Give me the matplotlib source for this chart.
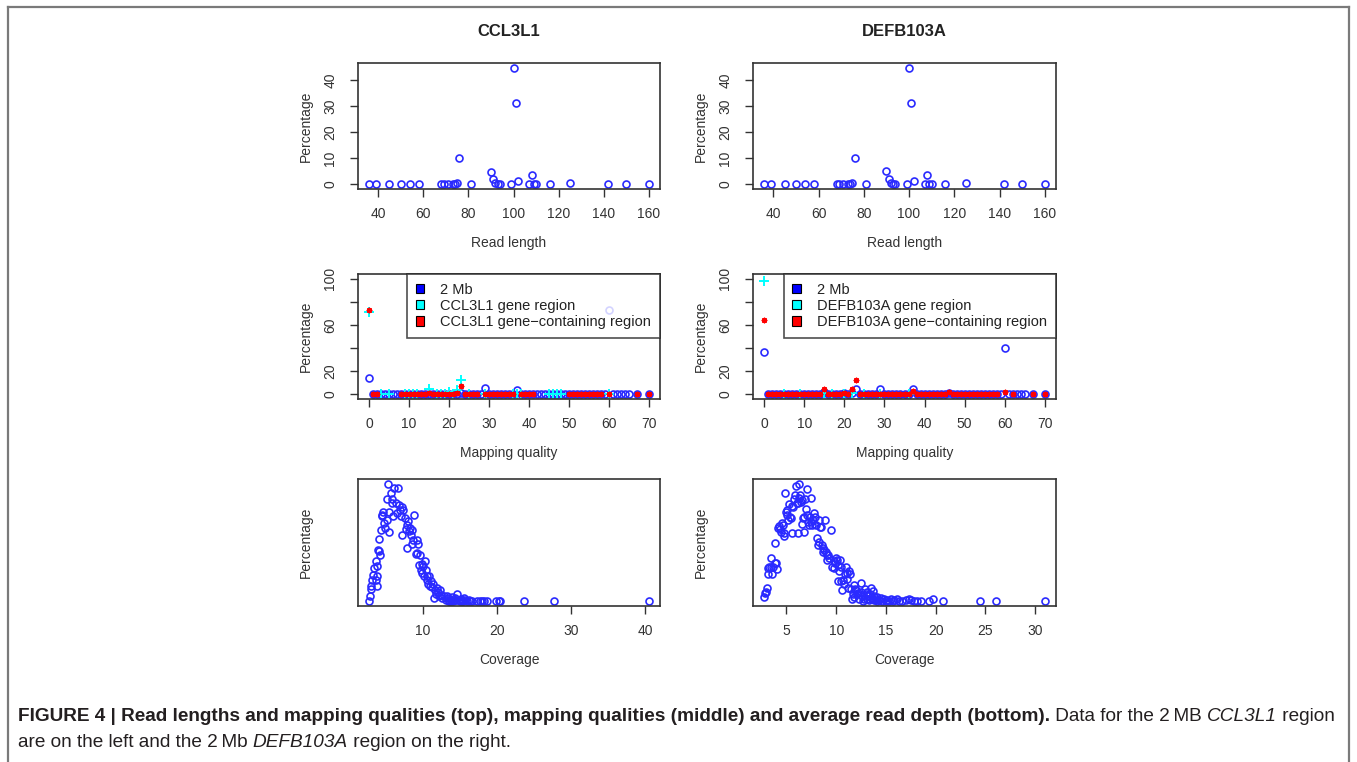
import matplotlib
matplotlib.use("Agg")
import matplotlib.pyplot as plt
from matplotlib import font_manager
from matplotlib.font_manager import FontProperties
from matplotlib.lines import Line2D
from matplotlib.patches import Patch

plt.rcParams["font.family"] = ["Liberation Sans", "DejaVu Sans"]

# ---- data: read length (top row) ----
rl_x = [36, 39, 45, 50, 54, 58, 68, 69, 71, 73, 74, 75, 76, 81, 90, 91, 92, 93,
        94, 99, 100, 101, 102, 107, 108, 109, 110, 116, 125, 142, 150, 160]
rl_ccl_y = [0, 0, 0, 0, 0, 0.2, 0, 0, 0, 0.2, 0.2, 0.4, 10.2, 0.2, 4.9, 2.0, 0.4, 0,
            0, 0, 44.8, 31.3, 1.1, 0, 3.4, 0, 0, 0, 0.4, 0, 0, 0]
rl_defb_y = [0, 0, 0, 0, 0, 0.2, 0, 0, 0, 0.2, 0.2, 0.4, 10.1, 0.2, 5.0, 2.0, 0.4, 0,
             0, 0, 44.9, 31.3, 1.1, 0, 3.4, 0, 0, 0, 0.4, 0, 0, 0]

# ---- data: mapping quality (middle row) ----
mq_blue_x = list(range(66)) + [67, 70]
mq_ccl_blue_y = [14.5, 0.3, 0.2, 0.2, 0.2, 0.2, 0.2, 0.2, 0.2, 0.2,
                 0.3, 0.3, 0.3, 0.3, 0.3, 0.4, 0.3, 0.3, 0.3, 0.3,
                 0.5, 0.4, 0.6, 0.8, 0.4, 0.4, 0.4, 0.5, 0.6, 5.2,
                 0.6, 0.4, 0.4, 0.4, 0.4, 0.5, 0.7, 3.6, 0.6, 0.4,
                 0.4, 0.4, 0.4, 0.3, 0.3, 0.3, 0.4, 0.3, 0.3, 0.3,
                 0.3, 0.3, 0.3, 0.3, 0.3, 0.3, 0.3, 0.3, 0.3, 0.4,
                 73.0, 0.3, 0.2, 0.2, 0.2, 0.2,
                 0.2, 0.3]
mq_ccl_cyan_x = [0, 3, 5, 9, 10, 11, 12, 15, 17, 18, 19, 20, 21, 22, 23, 25, 29,
                 36, 37, 38, 45, 46, 47, 48, 60]
mq_ccl_cyan_y = [71.0, 0, 0, 0, 0, 0, 0, 5.0, 0, 0, 0, 2.0, 0.5, 4.0, 12.0, 0, 0,
                 0, 0, 0, 0, 0.5, 0, 0, 0.3]
mq_ccl_red_x = [0, 1, 2, 8, 9, 10, 11, 12, 13, 14, 15, 16, 17, 18, 19, 20, 21, 22,
                23, 24, 25, 26, 27, 29, 30, 31, 32, 33, 34, 35, 36, 38, 39, 40, 41,
                50, 51, 52, 53, 54, 55, 56, 57, 58, 60, 67, 70]
mq_ccl_red_y = [73.0, 0, 0, 0, 0, 0, 0, 0, 0, 0, 1.5, 0, 0, 0, 0, 0.5, 0, 1.0,
                7.0, 0, 0, 0, 0, 0.5, 0, 0, 0, 0, 0, 0, 0, 0, 0, 0, 0,
                0, 0, 0, 0, 0, 0, 0, 0, 0, 0.5, 0, 0]

mq_defb_blue_y = [37.0, 0.2, 0.2, 0.2, 0.2, 0.2, 0.2, 0.2, 0.2, 0.2,
                  0.3, 0.3, 0.3, 0.3, 0.3, 2.0, 0.4, 0.4, 0.4, 0.5,
                  1.2, 0.5, 0.8, 4.5, 0.4, 0.4, 0.4, 0.5, 0.6, 4.3,
                  0.5, 0.3, 0.3, 0.3, 0.3, 0.4, 0.6, 4.3, 0.6, 0.3,
                  0.3, 0.3, 0.3, 0.3, 0.3, 0.3, 1.0, 0.3, 0.3, 0.3,
                  0.3, 0.3, 0.3, 0.3, 0.3, 0.3, 0.3, 0.5, 0.3, 0.3,
                  40.0, 0.3, 0.2, 0.2, 0.2, 0.2,
                  0.2, 0.2]
mq_defb_cyan_x = [0, 5, 9, 15, 17, 20, 22, 25, 29, 36]
mq_defb_cyan_y = [98.0, 0, 0, 1.5, 0, 0.5, 1.0, 0, 0, 0]
mq_defb_red_x = list(range(59)) + [60, 62, 67, 70]
mq_defb_red_y = [64.0, 0, 0, 0, 0, 0, 0, 0, 0, 0,
                 0, 0, 0, 0, 0, 5.0, 0, 0, 0, 0,
                 1.0, 0, 5.0, 12.0, 0, 0, 0, 0, 0, 0.5,
                 0, 0, 0, 0, 0, 0, 0, 3.0, 0, 0,
                 0, 0, 0, 0, 0, 0, 2.0, 0, 0, 0,
                 0, 0, 0, 0, 0, 0, 0, 0, 0,
                 2.0, 0, 0, 0]

# ---- data: coverage (bottom row) ----
cov_ccl_x = [2.74, 2.87, 2.96, 3.05, 3.18, 3.23, 3.41, 3.63, 3.86, 3.77, 3.63, 3.77,
             3.95, 4.08, 4.22, 4.31, 4.08, 4.44, 4.66, 4.53, 4.75, 4.89, 5.11, 5.20,
             5.29, 5.43, 5.47, 5.65, 5.79, 5.87, 6.01, 6.10, 6.32, 6.46, 6.64, 6.77,
             6.91, 7.00, 7.13, 7.22, 7.35, 7.53, 7.67, 7.80, 7.89, 8.03, 8.12, 8.25,
             8.34, 8.48, 8.57, 8.70, 8.79, 9.01, 9.15, 9.24, 9.37, 9.46, 9.60, 9.69,
             9.82, 9.91, 10.05, 10.14, 10.27, 10.36, 10.49, 10.58, 10.72, 10.81, 10.94,
             11.03, 11.17, 11.30, 11.48, 11.57, 11.70, 11.93, 12.02, 12.15, 12.29,
             12.47, 12.60, 12.83, 13.05, 13.18, 13.36, 13.54, 13.72, 13.95, 14.17,
             14.39, 14.62, 14.84, 15.07, 15.29, 15.52, 15.74, 15.96, 16.19, 16.41,
             17.31, 17.76, 18.21, 18.65, 19.91, 20.22, 20.45, 23.68, 27.71, 40.49,
             13.45, 13.85, 14.05, 14.50, 14.95, 15.40, 16.60, 18.00]
cov_ccl_y = [0, 0.064, 0.157, 0.191, 0.276, 0.340, 0.425, 0.510, 0.446, 0.319, 0.276,
             0.200, 0.659, 0.638, 0.595, 0.905, 0.795, 1.105, 1.135, 1.084, 0.999,
             0.935, 1.041, 1.305, 1.500, 1.135, 0.880, 1.381, 1.254, 1.305, 1.084,
             1.445, 1.254, 1.126, 1.445, 1.233, 1.169, 1.084, 0.850, 1.203, 1.169,
             1.063, 0.922, 0.680, 0.978, 1.020, 0.893, 0.935, 0.850, 0.914, 0.735,
             0.786, 1.105, 0.608, 0.786, 0.616, 0.735, 0.468, 0.595, 0.404, 0.476,
             0.361, 0.446, 0.319, 0.510, 0.404, 0.327, 0.276, 0.225, 0.319, 0.200,
             0.255, 0.183, 0.225, 0.043, 0.149, 0.098, 0.170, 0.115, 0.064, 0.140,
             0.085, 0.043, 0.072, 0.013, 0.064, 0.043, 0, 0.021, 0.055, 0.013,
             0.038, 0.098, 0.013, 0.030, 0, 0.043, 0.021, 0, 0.013, 0,
             0, 0, 0, 0, 0, 0, 0, 0, 0, 0,
             0.005, 0.010, 0, 0.020, 0.005, 0.010, 0, 0]

cov_defb_x = [2.76, 2.82, 2.92, 3.02, 3.09, 3.19, 3.29, 3.42, 3.49, 3.59, 3.69, 3.83,
              3.93, 4.03, 3.86, 4.16, 4.26, 4.36, 4.43, 4.50, 4.60, 4.70, 4.77, 4.87,
              4.93, 5.03, 5.10, 5.20, 5.27, 5.37, 5.44, 5.54, 5.60, 5.70, 5.77, 5.87,
              5.94, 6.04, 6.11, 6.17, 6.21, 6.27, 6.37, 6.44, 6.51, 6.54, 6.61, 6.71,
              6.78, 6.84, 6.94, 7.04, 7.11, 7.18, 7.28, 7.38, 7.45, 7.51, 7.61, 7.71,
              7.78, 7.85, 7.95, 8.05, 8.12, 8.22, 8.28, 8.38, 8.45, 8.52, 8.62, 8.72,
              8.79, 8.89, 8.95, 9.06, 9.12, 9.22, 9.29, 9.46, 9.62, 9.73, 9.79, 9.89,
              9.99, 10.06, 10.13, 10.19, 10.29, 10.40, 10.46, 10.53, 10.63, 10.73,
              10.80, 10.86, 10.97, 11.07, 11.13, 11.20, 11.30, 11.40, 11.47, 11.54,
              11.64, 11.74, 11.80, 11.87, 11.97, 12.07, 12.14, 12.31, 12.47, 12.54,
              12.64, 12.74, 12.81, 12.88, 12.98, 13.08, 13.14, 13.21, 13.31, 13.41,
              13.48, 13.58, 13.65, 13.75, 13.81, 13.98, 14.08, 14.15, 14.32, 14.48,
              14.65, 14.82, 14.99, 15.15, 15.32, 15.49, 15.66, 15.82, 16.09, 16.33,
              16.66, 17.00, 17.33, 17.50, 17.84, 18.17, 18.51, 19.34, 19.78, 20.75,
              24.47, 26.05, 30.97]
cov_defb_y = [0.055, 0.106, 0.119, 0.174, 0.344, 0.417, 0.429, 0.544, 0.429, 0.344,
              0.429, 0.480, 0.489, 0.404, 0.744, 0.927, 0.956, 0.914, 0.884, 0.990,
              0.969, 0.863, 0.829, 1.373, 1.139, 1.097, 1.160, 1.033, 1.237, 1.067,
              1.054, 0.871, 1.211, 1.194, 1.296, 1.352, 1.466, 1.245, 1.245, 0.863,
              1.492, 1.309, 1.352, 1.254, 0.982, 1.288, 1.054, 1.075, 0.884, 1.296,
              1.169, 1.097, 1.424, 1.012, 0.969, 1.075, 1.309, 1.012, 0.969, 1.033,
              1.118, 1.075, 0.969, 0.799, 0.714, 1.033, 0.757, 0.948, 0.939, 0.714,
              0.629, 0.672, 0.650, 1.033, 0.629, 0.587, 0.523, 0.587, 0.544, 0.905,
              0.438, 0.514, 0.417, 0.489, 0.544, 0.523, 0.459, 0.259, 0.387, 0.523,
              0.429, 0.259, 0.149, 0.276, 0.225, 0.344, 0.429, 0.361, 0.289, 0.174,
              0.387, 0.344, 0.162, 0.034, 0.098, 0.204, 0.055, 0.162, 0.140, 0.098,
              0.106, 0.034, 0.234, 0.119, 0.064, 0.004, 0.034, 0.162, 0.089, 0.034,
              0.119, 0.064, 0.013, 0.089, 0.174, 0.034, 0.132, 0.021, 0.064, 0.034,
              0.004, 0.055, 0.021, 0.047, 0.004, 0.034, 0.004, 0.021, 0.004, 0.034,
              0.004, 0.021, 0.034, 0.004, 0.004, 0.013, 0.034, 0.013, 0.004, 0.004,
              0.004, 0.004, 0.034, 0, 0, 0, 0]

titles = ["CCL3L1", "DEFB103A"]
legend_labels = {
    "CCL3L1": ["2 Mb", "CCL3L1 gene region", "CCL3L1 gene\u2212containing region"],
    "DEFB103A": ["2 Mb", "DEFB103A gene region", "DEFB103A gene\u2212containing region"],
}

W, H = 1357, 762
BLUE = "#2a2aff"
AXC = "#333333"
fig = plt.figure(figsize=(W / 100, H / 100), dpi=100)


def axes_px(x0, y0, x1, y1):
    return fig.add_axes([x0 / W, 1 - y1 / H, (x1 - x0) / W, (y1 - y0) / H])


def r_lim(vals, lo=None, hi=None):
    lo = min(vals) if lo is None else lo
    hi = max(vals) if hi is None else hi
    d = (hi - lo) * 0.04
    return lo - d, hi + d


def r_style(ax, xlabel, ylabel):
    for s in ax.spines.values():
        s.set_color(AXC)
        s.set_linewidth(1.2)
    ax.tick_params(direction="out", length=6, width=1.0, colors=AXC,
                   labelsize=10, labelcolor="#333333")
    ax.tick_params(axis="x", pad=7)
    ax.tick_params(axis="y", pad=9, labelrotation=90)
    for lab in ax.get_yticklabels():
        lab.set_verticalalignment("center")
    h = ax.bbox.height
    w = ax.bbox.width
    ax.text(0.5, -54 / h, xlabel, transform=ax.transAxes, ha="center",
            va="center", fontsize=10, color="#333333")
    ax.text(-52 / w, 0.5, ylabel, transform=ax.transAxes, ha="center",
            va="center", rotation=90, fontsize=10, color="#333333")


def circles(ax, x, y):
    ax.plot(x, y, linestyle="none", marker="o", ms=5.0, mfc="none",
            mec=BLUE, mew=1.2)


cols = [(358, 660), (753, 1056)]
rl_data = [rl_ccl_y, rl_defb_y]
mq_data = [
    (mq_ccl_blue_y, mq_ccl_cyan_x, mq_ccl_cyan_y, mq_ccl_red_x, mq_ccl_red_y),
    (mq_defb_blue_y, mq_defb_cyan_x, mq_defb_cyan_y, mq_defb_red_x, mq_defb_red_y),
]
cov_data = [(cov_ccl_x, cov_ccl_y), (cov_defb_x, cov_defb_y)]

for i, (x0, x1) in enumerate(cols):
    name = titles[i]
    fig.text((x0 + x1) / 2 / W, 1 - 32 / H, name, ha="center", va="center",
             fontsize=12, fontweight="bold", color="#222222")

    # read length
    ax = axes_px(x0, 63, x1, 189)
    circles(ax, rl_x, rl_data[i])
    ax.set_xlim(*r_lim(rl_x))
    ax.set_ylim(*r_lim(rl_data[i]))
    ax.set_xticks([40, 60, 80, 100, 120, 140, 160])
    ax.set_yticks([0, 10, 20, 30, 40])
    r_style(ax, "Read length", "Percentage")

    # mapping quality
    blue_y, cx, cy, rx, ry = mq_data[i]
    ax = axes_px(x0, 274, x1, 399)
    circles(ax, mq_blue_x, blue_y)
    ax.plot(cx, cy, linestyle="none", marker="+", ms=7, mec="#00ffff", mew=1.4)
    ax.plot(rx, ry, linestyle="none", marker=(8, 2, 0), ms=4, mec="red", mew=0.9)
    ax.set_xlim(*r_lim([0, 70]))
    ax.set_ylim(*r_lim([0, 100]))
    ax.set_xticks([0, 10, 20, 30, 40, 50, 60, 70])
    ax.set_yticks([0, 20, 40, 60, 80, 100])
    ax.set_yticklabels(["0", "20", "", "60", "", "100"])
    handles = [Patch(facecolor=c, edgecolor="black", linewidth=0.8)
               for c in ["#0000ff", "#00ffff", "#ff0000"]]
    leg = ax.legend(handles, legend_labels[name], loc="upper right",
                    borderaxespad=0, fontsize=10.5, frameon=True, fancybox=False,
                    handlelength=0.6, handleheight=0.6, handletextpad=1.1,
                    labelspacing=0.15, borderpad=0.6)
    leg.get_frame().set_edgecolor("#222222")
    leg.get_frame().set_linewidth(1.2)
    for t in leg.get_texts():
        t.set_color("#222222")
    r_style(ax, "Mapping quality", "Percentage")

    # coverage
    covx, covy = cov_data[i]
    ax = axes_px(x0, 479, x1, 606)
    circles(ax, covx, covy)
    ax.set_xlim(*r_lim(covx))
    ax.set_ylim(*r_lim(covy))
    ax.set_xticks([10, 20, 30, 40] if i == 0 else [5, 10, 15, 20, 25, 30])
    ax.set_yticks([])
    r_style(ax, "Coverage", "Percentage")

# outer frame (open at the bottom)
fx0, fx1, fy0 = 8 / W, 1349 / W, 1 - 7 / H
for xs, ys in [([fx0, fx0], [0, fy0]), ([fx0, fx1], [fy0, fy0]), ([fx1, fx1], [fy0, 0])]:
    fig.add_artist(Line2D(xs, ys, transform=fig.transFigure, color="#7a7a7a", lw=1.6))

# caption with mixed styles
names = {f.name for f in font_manager.fontManager.ttflist}
cap_family = (["Liberation Sans Narrow", "DejaVu Sans"] if "Liberation Sans Narrow" in names
              else ["Liberation Sans", "DejaVu Sans"])
renderer = fig.canvas.get_renderer()

line1 = [("FIGURE 4 | Read lengths and mapping qualities (top), mapping qualities "
          "(middle) and average read depth (bottom).", "bold", "normal"),
         (" Data for the 2\u2009MB ", "normal", "normal"),
         ("CCL3L1", "normal", "italic"),
         (" region", "normal", "normal")]
line2 = [("are on the left and the 2\u2009Mb ", "normal", "normal"),
         ("DEFB103A", "normal", "italic"),
         (" region on the right.", "normal", "normal")]


def piece_w(text, weight, style, size):
    fp = FontProperties(family=cap_family, weight=weight, style=style, size=size)
    a = renderer.get_text_width_height_descent("|" + text + "|", fp, ismath=False)[0]
    b = renderer.get_text_width_height_descent("||", fp, ismath=False)[0]
    return a - b


base = 12.0
total = sum(piece_w(t, w, s, base) for t, w, s in line1)
cap_size = base * 1315 / total


def caption_line(pieces, y_px):
    x = 18
    for text, weight, style in pieces:
        fig.text(x / W, 1 - y_px / H, text, fontsize=cap_size, fontweight=weight,
                 fontstyle=style, family=cap_family, ha="left", va="baseline",
                 color="#231f20")
        x += piece_w(text, weight, style, cap_size)


caption_line(line1, 721)
caption_line(line2, 747)

fig.savefig("out.png", dpi=100)
